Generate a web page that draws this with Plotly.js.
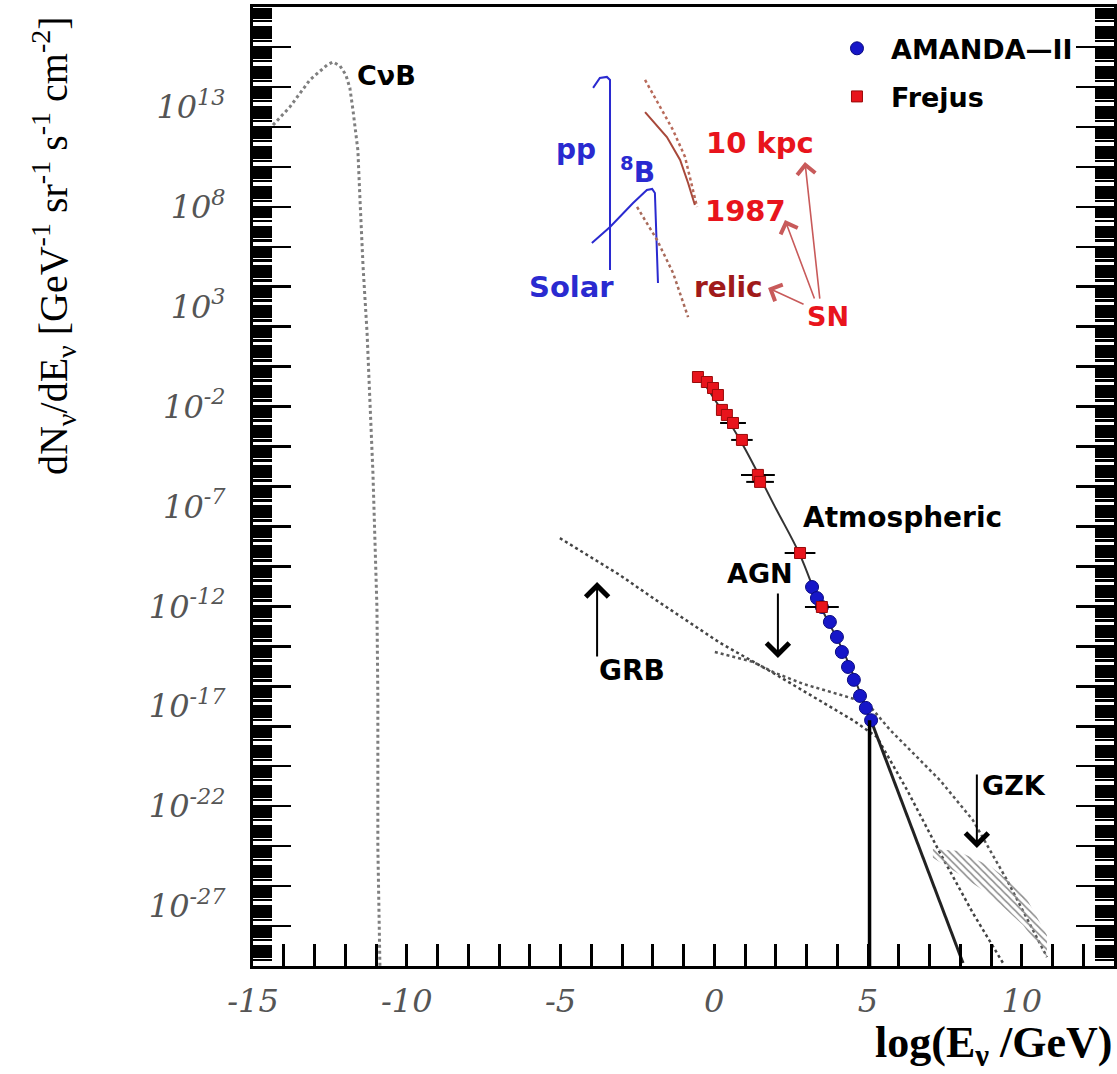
<!DOCTYPE html>
<html><head><meta charset="utf-8">
<script src="https://cdn.plot.ly/plotly-3.0.1.min.js"></script>
<style>html,body{margin:0;padding:0;background:#fff;}#chart{width:1117px;height:1074px;}</style>
</head><body><div id="chart"></div>
<script>
// ---------------- data ----------------
// Cosmic neutrino background
const cnbX = [-14.35, -13.80, -13.15, -12.59, -12.40, -12.17, -11.98, -11.85, -11.75, -11.59, -11.52, -11.42, -11.29, -11.10, -10.97, -10.94, -10.94, -10.87, -10.87];
const cnbY = [1.23e12, 1.0e13, 2.24e14, 1.26e15, 1.78e15, 1.12e15, 3.98e14, 8.9e13, 7.1e12, 6.9e10, 2.19e8, 9.8e4, 47.9, 4.8e-6, 9.3e-13, 2.95e-17, 9.1e-25, 8.9e-30, 6.3e-31];
// Solar pp
const ppX = [-3.94, -3.72, -3.49, -3.39, -3.39];
const ppY = [8.9e13, 2.8e14, 3.16e14, 2.24e14, 6.9e4];
// Solar 8B
const b8X = [-3.98, -3.39, -2.64, -2.19, -2.02, -1.93, -1.83];
const b8Y = [1.55e6, 9.8e6, 1.55e8, 6.9e8, 7.8e8, 4.9e8, 1.55e4];
// Supernova 10 kpc (dotted)
const sn10X = [-2.25, -1.76, -1.34, -0.95, -0.56];
const sn10Y = [2.24e14, 1.0e13, 6.9e11, 3.1e10, 9.8e7];
// SN 1987 (solid)
const sn87X = [-2.25, -1.54, -1.11, -0.85, -0.63];
const sn87Y = [5.5e12, 3.1e11, 2.19e10, 1.55e9, 1.23e8];
// Relic SN (dotted)
const relicX = [-2.51, -1.86, -1.34, -0.85];
const relicY = [9.8e7, 2.19e6, 4.9e4, 302];
// GRB model
const grbX = [-5.02, -3.07, -1.99, 0.19, 1.91, 4.51, 5.29, 6.27, 7.34, 8.41, 9.39];
const grbY = [2.6e-9, 3.7e-11, 2.6e-12, 1.48e-14, 4.7e-16, 2.0e-18, 2.9e-19, 6.5e-22, 4.6e-25, 4.5e-28, 1.41e-30];
// AGN model
const agnX = [0.02, 1.26, 1.91, 2.89, 3.99, 4.97, 5.72, 7.34, 8.41, 9.52, 10.82];
const agnY = [5.2e-15, 1.66e-15, 5.2e-16, 1.32e-16, 4.2e-17, 1.48e-17, 6.5e-19, 2.0e-21, 2.0e-23, 2.0e-26, 2.8e-30];
// Atmospheric flux
const atmX = [-0.56, 0.84, 1.98, 2.79, 3.44, 4.25, 5.07];
const atmY = [0.48, 2.14e-4, 9.3e-8, 3.7e-10, 1.17e-12, 3.7e-15, 2.0e-18];
const atmExtX = [5.13, 8.09];
const atmExtY = [1.45e-18, 1.41e-30];
// GZK band outline
const gzkX = [7.11, 7.89, 8.97, 10.04, 10.82, 10.82, 10.04, 8.97, 7.89, 7.11, 7.11];
const gzkY = [7.2e-25, 5.8e-25, 1.02e-25, 5.1e-27, 3.5e-29, 2.8e-30, 1.12e-28, 3.6e-27, 4.6e-26, 2.6e-25, 7.2e-25];
// AMANDA-II limit line
const limX = [5.05, 5.05];
const limY = [2.0e-18, 1.0e-30];
// Frejus data
const frejusX = [-0.53, -0.24, -0.04, 0.12, 0.25, 0.41, 0.61, 0.90, 1.42, 1.49, 2.79, 3.50];
const frejusY = [0.302, 0.17, 0.085, 0.038, 6.8e-3, 3.8e-3, 1.51e-3, 2.14e-4, 3.8e-6, 1.7e-6, 4.7e-10, 9.3e-13];
const frejusXErr = [0.12, 0.12, 0.12, 0.12, 0.15, 0.15, 0.42, 0.35, 0.55, 0.45, 0.5, 0.55];
// AMANDA-II data
const amandaX = [3.18, 3.34, 3.50, 3.76, 3.99, 4.15, 4.35, 4.54, 4.74, 4.93, 5.10];
const amandaY = [9.3e-12, 2.6e-12, 9.3e-13, 1.66e-13, 2.95e-14, 5.2e-15, 9.3e-16, 2.1e-16, 3.3e-17, 8.3e-18, 2.0e-18];
// axis labels
const xLabelValues = [-15, -10, -5, 0, 5, 10];
const xLabelText = ['-15', '-10', '-5', '0', '5', '10'];
const yLabelExponents = [13, 8, 3, -2, -7, -12, -17, -22, -27];

// ---------------- ticks ----------------
const yLabelVals = yLabelExponents.map(n => Number('1e' + n));
const yLabelText = yLabelExponents.map(n => '10<sup>' + n + '</sup>');
const yMinorVals = [];
for (let n = -30; n <= 17; n++) for (let d = 1; d <= 9; d++) yMinorVals.push(Number(d + 'e' + n));
const yMajorVals = [];
for (let n = -30; n <= 18; n += 2) yMajorVals.push(Number('1e' + n));

const BLUE = '#2a2ad0', RED = '#e8141c';
const lbl = (f) => Object.assign({family: 'DejaVu Sans', size: 28, weight: 'bold', color: '#000'}, f || {});

const traces = [
  {x: gzkX, y: gzkY, yaxis: 'y2', mode: 'lines', fill: 'toself', fillcolor: 'rgba(0,0,0,0)',
   fillpattern: {shape: '\\', fgcolor: '#8a8a8a', size: 5, solidity: 0.3}, line: {width: 0}, showlegend: false, hoverinfo: 'skip'},
  {x: cnbX, y: cnbY, mode: 'lines', line: {color: '#7f7f7f', dash: 'dot', width: 3}, showlegend: false},
  {x: ppX, y: ppY, mode: 'lines', line: {color: BLUE, width: 2}, showlegend: false},
  {x: b8X, y: b8Y, mode: 'lines', line: {color: BLUE, width: 2}, showlegend: false},
  {x: sn10X, y: sn10Y, mode: 'lines', line: {color: '#b86a5a', dash: 'dot', width: 2.5}, showlegend: false},
  {x: sn87X, y: sn87Y, mode: 'lines', line: {color: '#a8483a', width: 2}, showlegend: false},
  {x: relicX, y: relicY, mode: 'lines', line: {color: '#a86a5a', dash: 'dot', width: 2.5}, showlegend: false},
  {x: grbX, y: grbY, mode: 'lines', line: {color: '#444', dash: 'dot', width: 2.5}, showlegend: false},
  {x: agnX, y: agnY, mode: 'lines', line: {color: '#555', dash: 'dot', width: 2.5}, showlegend: false},
  {x: atmX, y: atmY, mode: 'lines', line: {color: '#333', width: 2, shape: 'spline'}, showlegend: false},
  {x: atmExtX, y: atmExtY, mode: 'lines', line: {color: '#222', width: 3}, showlegend: false},
  {x: limX, y: limY, yaxis: 'y3', mode: 'lines', line: {color: '#000', width: 3.5}, showlegend: false},
  {x: amandaX, y: amandaY, mode: 'markers', name: 'AMANDA—II', legendgroup: 'a',
   marker: {symbol: 'circle', size: 13, color: '#1616c8', line: {width: 1, color: '#0a0a80'}}},
  {x: frejusX, y: frejusY, mode: 'markers', name: 'Frejus', legendgroup: 'f',
   error_x: {type: 'data', array: frejusXErr, color: '#000', thickness: 2, width: 0},
   marker: {symbol: 'square', size: 11, color: RED, line: {width: 1, color: '#9a0a0a'}}}
];

const arrowBlack = {showarrow: true, arrowhead: 4, arrowsize: 2.2, arrowwidth: 2, arrowcolor: '#000', text: '', ax: 0};
const arrowRed = {showarrow: true, arrowhead: 4, arrowsize: 2.2, arrowwidth: 1.6, arrowcolor: '#c85a5a', text: ''};

const annotations = [
  {x: -11.68, y: 14.55, xanchor: 'left', text: 'CνB', showarrow: false, font: lbl({size: 27})},
  {x: -4.50, y: 10.89, text: 'pp', showarrow: false, font: lbl({color: BLUE})},
  {x: -2.48, y: 9.84, text: '<sup>8</sup>B', showarrow: false, font: lbl({color: BLUE})},
  {x: -4.63, y: 3.99, text: 'Solar', showarrow: false, font: lbl({color: BLUE, size: 29})},
  {x: 1.49, y: 11.19, text: '10 kpc', showarrow: false, font: lbl({color: RED, size: 29})},
  {x: 1.03, y: 7.79, text: '1987', showarrow: false, font: lbl({color: RED, size: 29})},
  {x: 0.45, y: 3.94, text: 'relic', showarrow: false, font: lbl({color: '#a01a1a'})},
  {x: 3.70, y: 2.53, text: 'SN', showarrow: false, font: lbl({color: RED, size: 27})},
  {x: 6.11, y: -7.53, text: 'Atmospheric', showarrow: false, font: lbl()},
  {x: 1.49, y: -10.33, text: 'AGN', showarrow: false, font: lbl({size: 27})},
  {x: -2.67, y: -15.23, text: 'GRB', showarrow: false, font: lbl({size: 28})},
  {x: 8.64, y: -20.99, xanchor: 'left', text: 'GZK', showarrow: false, font: lbl({size: 27})},
  Object.assign({x: -3.81, y: -10.78, ay: 76}, arrowBlack),
  Object.assign({x: 2.07, y: -14.58, ay: -66}, arrowBlack),
  Object.assign({x: 8.54, y: -24.09, ay: -75}, arrowBlack),
  Object.assign({x: 2.95, y: 10.24, ax: 15, ay: 138}, arrowRed),
  Object.assign({x: 2.30, y: 7.34, ax: 30, ay: 80}, arrowRed),
  Object.assign({x: 1.75, y: 3.94, ax: 37, ay: 17}, arrowRed),
  {xref: 'paper', yref: 'paper', x: 1.0, y: -0.083, xanchor: 'right', yanchor: 'middle', showarrow: false,
   text: 'log(E<sub>ν</sub> /GeV)', font: {family: 'Liberation Serif', size: 44, weight: 'bold', color: '#000'}},
  {xref: 'paper', yref: 'paper', x: -0.232, y: 0.751, xanchor: 'center', yanchor: 'middle', showarrow: false, textangle: -90,
   text: 'dN<sub>ν</sub>/dE<sub>ν</sub> [GeV<sup>-1</sup> sr<sup>-1</sup> s<sup>-1</sup> cm<sup>-2</sup>]',
   font: {family: 'Liberation Serif', size: 40, color: '#000'}}
];

const tickFont = {family: 'DejaVu Serif', size: 32, color: '#555', style: 'italic'};
const common = {showgrid: false, zeroline: false, automargin: false, showline: true, linewidth: 3, linecolor: '#000', tickcolor: '#000'};
const layout = {
  width: 1117, height: 1074,
  margin: {l: 253, r: 3, t: 7, b: 108, pad: 0},
  paper_bgcolor: '#fff', plot_bgcolor: '#fff',
  xaxis: Object.assign({range: [-15, 13], tickmode: 'array', tickvals: xLabelValues, ticktext: xLabelText,
    ticks: 'inside', ticklen: 22, tickwidth: 3, mirror: true,
    minor: {dtick: 1, tick0: -15, ticks: 'inside', ticklen: 22, tickwidth: 3, tickcolor: '#000', showgrid: false},
    tickfont: tickFont, ticklabelstandoff: 5}, common),
  yaxis: Object.assign({type: 'log', range: [-30, 18], tickmode: 'array', tickvals: yLabelVals, ticktext: yLabelText,
    ticks: 'inside', ticklen: 19, tickwidth: 2.5, mirror: 'ticks',
    tickfont: tickFont, ticklabelstandoff: 18}, common),
  yaxis2: Object.assign({type: 'log', range: [-30, 18], overlaying: 'y', side: 'left', tickmode: 'array', tickvals: yMinorVals,
    ticks: 'inside', ticklen: 19, tickwidth: 2.5, showticklabels: false, mirror: 'ticks'}, common),
  yaxis3: Object.assign({type: 'log', range: [-30, 18], overlaying: 'y', side: 'left', tickmode: 'array', tickvals: yMajorVals,
    ticks: 'inside', ticklen: 38, tickwidth: 2.5, showticklabels: false, mirror: 'ticks'}, common),
  showlegend: true,
  legend: {x: 0.662, y: 0.982, xanchor: 'left', yanchor: 'top', bgcolor: 'rgba(0,0,0,0)',
    traceorder: 'grouped', tracegroupgap: 10, itemwidth: 58,
    font: {family: 'DejaVu Sans', size: 27, weight: 'bold', color: '#000'}},
  annotations: annotations
};

Plotly.newPlot('chart', traces, layout, {staticPlot: true, displayModeBar: false});
</script></body></html>
